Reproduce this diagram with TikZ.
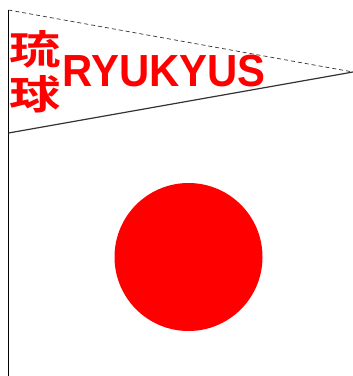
\documentclass[tikz,border=0pt]{standalone}
\usepackage{fontspec}
\setmainfont{Liberation Sans}
\newfontfamily\cjk{Noto Sans CJK JP Bold}
\tikzset{
  toptext/.style={text=red,inner sep=0pt,anchor=center},
}
\begin{document}
\begin{tikzpicture}[x=1pt,y=-1pt]
\useasboundingbox (0,0) rectangle (353,376);
\coordinate (poletop) at (8.5,10);
\coordinate (polebase) at (8.5,376);
\coordinate (tip) at (353,72);
\coordinate (low) at (8.5,133);
\draw[line width=1pt] (poletop) -- (polebase);
\draw[line width=0.7pt,dash pattern=on 4pt off 3pt,draw=black!80] (poletop) -- (tip);
\draw[line width=1.2pt,draw=black!80] (low) -- (tip);
\node[toptext] (ryu) at (35,49.5) {\scalebox{1.28}[1]{\cjk\fontsize{40}{40}\selectfont 琉}};
\node[toptext] (kyu) at (35,94) {\scalebox{1.28}[1]{\cjk\fontsize{40}{40}\selectfont 球}};
\node[toptext] (name) at (164,71.5) {\scalebox{0.93}[1]{\fontsize{45}{45}\selectfont\bfseries RYUKYUS}};
\node[circle,fill=red,draw=none,minimum size=148pt,inner sep=0pt] (sun) at (188.5,257) {};
\end{tikzpicture}
\end{document}
